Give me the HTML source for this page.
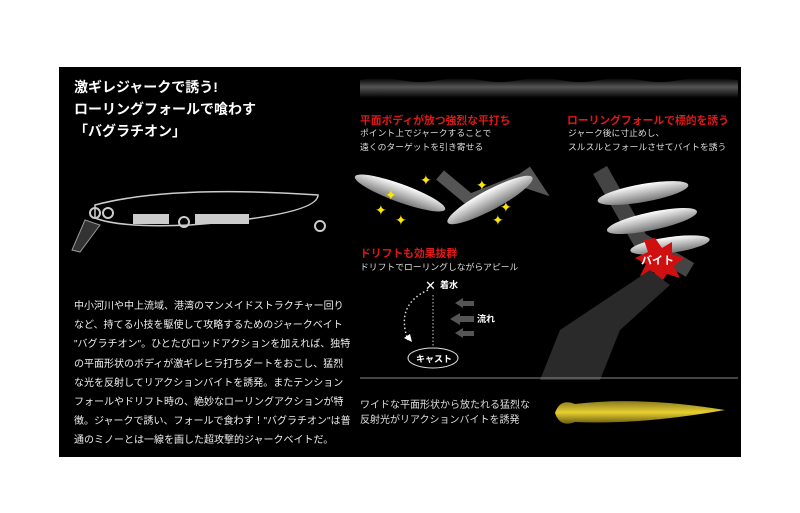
<!DOCTYPE html>
<html><head><meta charset="utf-8"><style>
body{margin:0;width:800px;height:513px;background:#fff;overflow:hidden;font-family:"Liberation Sans","Noto Sans CJK JP",sans-serif;}
#p{position:absolute;left:59px;top:67px;width:682px;height:390px;background:#000;}
.t{position:absolute;white-space:nowrap;color:#fff;}
.h{font-weight:bold;font-size:14px;left:74px;}
.para{left:74px;top:297px;font-size:10px;line-height:19.2px;color:#eee;}
.r{color:#e01818;font-weight:bold;font-size:10.8px;}
.s{font-size:8.8px;line-height:14px;color:#ddd;}
</style></head><body>
<div id="p"></div>
<svg width="800" height="513" style="position:absolute;left:0;top:0">
<defs>
<linearGradient id="w" x1="0" y1="0" x2="0" y2="1"><stop offset="0" stop-color="#000"/><stop offset=".45" stop-color="#555"/><stop offset="1" stop-color="#000"/></linearGradient>
<linearGradient id="y" x1="0" y1="0" x2="0" y2="1"><stop offset="0" stop-color="#8a7a20"/><stop offset=".5" stop-color="#e8d030"/><stop offset="1" stop-color="#6a5a10"/></linearGradient>
<linearGradient id="f" x1="0" y1="0" x2="0" y2="1"><stop offset="0" stop-color="#fff"/><stop offset="1" stop-color="#777"/></linearGradient>
</defs>
<path d="M360 80 Q380 76 400 80 T440 80 T480 80 T520 80 T560 80 T600 80 T640 80 T680 80 T738 80 L738 98 L360 98Z" fill="url(#w)"/>
<path d="M95 205 Q170 185 318 195 Q318 215 190 225 Q120 228 95 218Z" fill="none" stroke="#ccc" stroke-width="1.5"/>
<path d="M85 220 L72 250 L80 252 L100 225Z" fill="#333" stroke="#999"/>
<rect x="133" y="214" width="36" height="10" fill="#ccc"/><rect x="195" y="214" width="54" height="10" fill="#ccc"/>
<circle cx="95" cy="213" r="5" fill="none" stroke="#ccc" stroke-width="2"/><circle cx="108" cy="213" r="5" fill="none" stroke="#ccc" stroke-width="2"/>
<circle cx="320" cy="226" r="5" fill="none" stroke="#ccc" stroke-width="2"/><circle cx="184" cy="222" r="5" fill="none" stroke="#ccc" stroke-width="2"/>
<path d="M440 175 L470 200 L520 180 L535 185 L525 170" fill="none" stroke="#555" stroke-width="12"/>
<ellipse cx="400" cy="193" rx="48" ry="9" transform="rotate(20 400 193)" fill="url(#f)"/>
<ellipse cx="490" cy="200" rx="48" ry="10" transform="rotate(-28 490 200)" fill="url(#f)"/>
<g fill="#ffe600" font-size="14"><text x="375" y="215">✦</text><text x="385" y="200">✦</text><text x="420" y="185">✦</text><text x="395" y="225">✦</text><text x="476" y="190">✦</text><text x="500" y="212">✦</text><text x="492" y="225">✦</text></g>
<path d="M600 170 L640 240 L690 270" fill="none" stroke="#444" stroke-width="16"/>
<ellipse cx="643" cy="193" rx="46" ry="9" transform="rotate(-10 643 193)" fill="url(#f)"/>
<ellipse cx="652" cy="221" rx="46" ry="9" transform="rotate(-12 652 221)" fill="url(#f)"/>
<ellipse cx="670" cy="245" rx="40" ry="8" transform="rotate(-8 670 245)" fill="url(#f)"/>
<polygon points="655,238 662,248 672,242 672,254 684,258 674,266 680,278 667,274 660,284 654,272 640,276 646,264 635,258 648,252 644,240" fill="#d01010"/>
<text x="641" y="264" fill="#fff" font-size="11" font-weight="bold" font-family="Liberation Sans,Noto Sans CJK JP,sans-serif">バイト</text>
<path d="M650 270 L560 330 L540 380 L600 380 L620 330 L670 285Z" fill="#2a2a2a"/>
<text x="425" y="290" fill="#fff" font-size="13">✕</text>
<text x="440" y="288" fill="#fff" font-size="9" font-weight="bold" font-family="Liberation Sans,Noto Sans CJK JP,sans-serif">着水</text>
<line x1="433" y1="295" x2="433" y2="347" stroke="#ccc" stroke-dasharray="1.5,2"/>
<path d="M428 290 Q395 305 408 340" fill="none" stroke="#ddd" stroke-width="1.5" stroke-dasharray="1.5,2.5"/>
<polygon points="404,338 412,342 410,334" fill="#fff"/>
<ellipse cx="433" cy="358" rx="25" ry="10" fill="#000" stroke="#ddd"/>
<text x="416" y="362" fill="#fff" font-size="9" font-weight="bold" font-family="Liberation Sans,Noto Sans CJK JP,sans-serif">キャスト</text>
<g fill="#555"><polygon points="455,303 463,298 463,301 474,301 474,306 463,306 463,308"/><polygon points="450,319 460,313 460,316 474,316 474,322 460,322 460,325"/><polygon points="455,333 463,328 463,331 474,331 474,336 463,336 463,338"/></g>
<text x="477" y="322" fill="#fff" font-size="9" font-weight="bold" font-family="Liberation Sans,Noto Sans CJK JP,sans-serif">流れ</text>
<line x1="360" y1="378" x2="738" y2="378" stroke="#888"/>
<path d="M555 413 Q560 398 575 404 Q640 396 725 410 Q640 425 575 422 Q560 428 555 413Z" fill="url(#y)"/>
</svg>
<div class="t h" style="top:77px">激ギレジャークで誘う!</div>
<div class="t h" style="top:99px">ローリングフォールで喰わす</div>
<div class="t h" style="top:121px">「バグラチオン」</div>
<div class="t para">中小河川や中上流域、港湾のマンメイドストラクチャー回り<br>など、持てる小技を駆使して攻略するためのジャークベイト<br>"バグラチオン"。ひとたびロッドアクションを加えれば、独特<br>の平面形状のボディが激ギレヒラ打ちダートをおこし、猛烈<br>な光を反射してリアクションバイトを誘発。またテンション<br>フォールやドリフト時の、絶妙なローリングアクションが特<br>徴。ジャークで誘い、フォールで食わす！"バグラチオン"は普<br>通のミノーとは一線を画した超攻撃的ジャークベイトだ。</div>
<div class="t r" style="left:360px;top:112px">平面ボディが放つ強烈な平打ち</div>
<div class="t s" style="left:360px;top:126px">ポイント上でジャークすることで<br>遠くのターゲットを引き寄せる</div>
<div class="t r" style="left:567px;top:112px">ローリングフォールで標的を誘う</div>
<div class="t s" style="left:568px;top:126px">ジャーク後に寸止めし、<br>スルスルとフォールさせてバイトを誘う</div>
<div class="t r" style="left:360px;top:245px">ドリフトも効果抜群</div>
<div class="t s" style="left:360px;top:260px">ドリフトでローリングしながらアピール</div>
<div class="t s" style="left:360px;top:398px;font-size:10px;line-height:15px">ワイドな平面形状から放たれる猛烈な<br>反射光がリアクションバイトを誘発</div>
</body></html>
